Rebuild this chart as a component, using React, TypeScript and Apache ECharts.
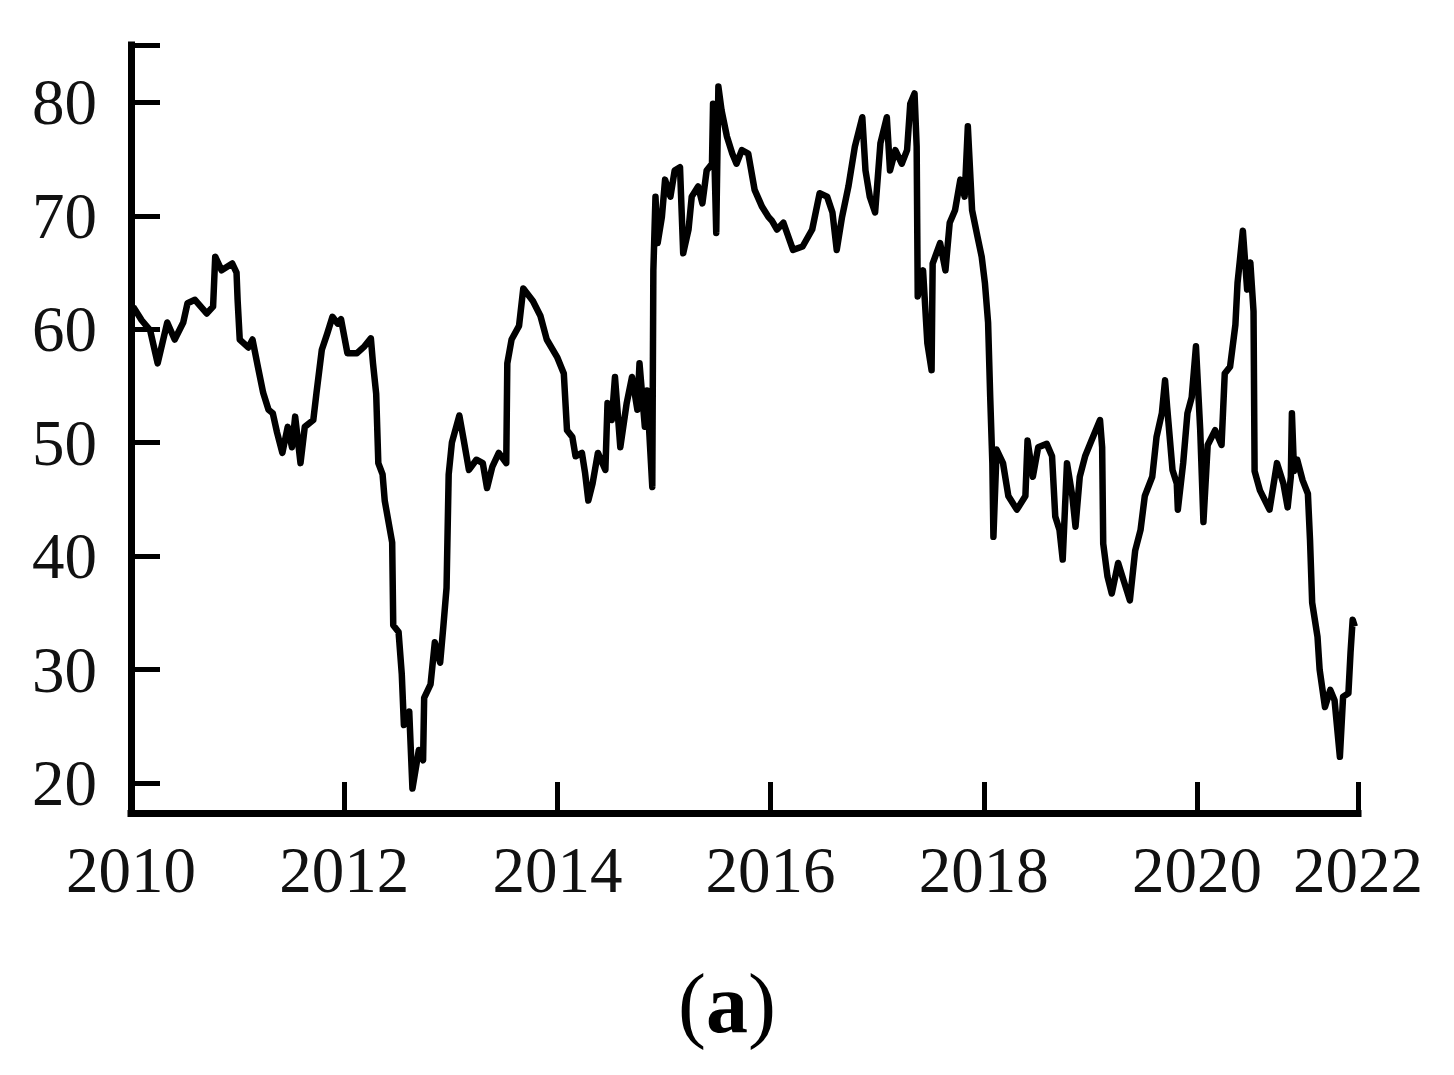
import React, { useEffect, useRef } from "react";
import * as echarts from "echarts";

// Decimal years (x) and index values (y)
const dates: number[] = [
  2010.02, 2010.10, 2010.18, 2010.25, 2010.34, 2010.41, 2010.49, 2010.53, 2010.60, 2010.71,
  2010.77, 2010.79, 2010.85, 2010.95, 2010.99, 2011.00, 2011.02, 2011.10, 2011.14, 2011.19,
  2011.24, 2011.29, 2011.33, 2011.37, 2011.42, 2011.47, 2011.51, 2011.54, 2011.59, 2011.63,
  2011.71, 2011.74, 2011.79, 2011.84, 2011.89, 2011.94, 2011.97, 2012.03, 2012.12, 2012.19,
  2012.25, 2012.27, 2012.30, 2012.32, 2012.36, 2012.38, 2012.45, 2012.46, 2012.51, 2012.54,
  2012.56, 2012.61, 2012.64, 2012.70, 2012.74, 2012.75, 2012.81, 2012.85, 2012.90, 2012.93,
  2012.96, 2012.98, 2013.01, 2013.08, 2013.12, 2013.17, 2013.24, 2013.30, 2013.34, 2013.39,
  2013.45, 2013.52, 2013.53, 2013.57, 2013.64, 2013.68, 2013.77, 2013.84, 2013.90, 2014.00,
  2014.06, 2014.09, 2014.14, 2014.17, 2014.23, 2014.26, 2014.29, 2014.33, 2014.38, 2014.45,
  2014.47, 2014.51, 2014.54, 2014.59, 2014.65, 2014.70, 2014.75, 2014.77, 2014.82, 2014.84,
  2014.89, 2014.90, 2014.92, 2014.94, 2014.98, 2015.01, 2015.06, 2015.10, 2015.15, 2015.18,
  2015.23, 2015.26, 2015.32, 2015.36, 2015.40, 2015.45, 2015.46, 2015.49, 2015.51, 2015.54,
  2015.59, 2015.64, 2015.68, 2015.73, 2015.79, 2015.85, 2015.92, 2015.98, 2016.01, 2016.06,
  2016.12, 2016.21, 2016.30, 2016.39, 2016.46, 2016.53, 2016.58, 2016.62, 2016.67, 2016.73,
  2016.79, 2016.86, 2016.89, 2016.93, 2016.98, 2017.03, 2017.09, 2017.12, 2017.17, 2017.23,
  2017.28, 2017.31, 2017.35, 2017.37, 2017.38, 2017.43, 2017.47, 2017.51, 2017.52, 2017.59,
  2017.64, 2017.68, 2017.73, 2017.78, 2017.82, 2017.85, 2017.89, 2017.94, 2017.98, 2018.01,
  2018.04, 2018.06, 2018.08, 2018.09, 2018.12, 2018.18, 2018.23, 2018.31, 2018.39, 2018.41,
  2018.46, 2018.51, 2018.59, 2018.64, 2018.67, 2018.71, 2018.74, 2018.78, 2018.83, 2018.86,
  2018.90, 2018.95, 2019.01, 2019.09, 2019.11, 2019.12, 2019.16, 2019.20, 2019.26, 2019.32,
  2019.37, 2019.42, 2019.47, 2019.51, 2019.58, 2019.62, 2019.67, 2019.70, 2019.72, 2019.77,
  2019.81, 2019.82, 2019.87, 2019.91, 2019.95, 2019.99, 2020.03, 2020.06, 2020.10, 2020.17,
  2020.23, 2020.26, 2020.31, 2020.36, 2020.38, 2020.40, 2020.43, 2020.47, 2020.50, 2020.53,
  2020.54, 2020.59, 2020.68, 2020.75, 2020.81, 2020.85, 2020.88, 2020.89, 2020.91, 2020.94,
  2020.99, 2021.04, 2021.06, 2021.08, 2021.13, 2021.15, 2021.20, 2021.25, 2021.29, 2021.34,
  2021.37, 2021.42, 2021.44, 2021.46, 2021.48,
];

const values: number[] = [
  62.0, 60.8, 59.9, 57.0, 60.6, 59.1, 60.6, 62.3, 62.6, 61.4,
  62.0, 66.4, 65.2, 65.8, 65.0, 62.6, 59.1, 58.4, 59.1, 56.7,
  54.4, 52.9, 52.6, 50.9, 49.1, 51.4, 49.6, 52.3, 48.2, 51.4,
  52.0, 54.4, 58.2, 59.6, 61.1, 60.5, 60.9, 57.9, 57.9, 58.5,
  59.2, 57.0, 54.3, 48.2, 47.2, 44.9, 41.2, 33.9, 33.3, 29.6,
  25.1, 26.3, 19.5, 22.9, 22.0, 27.5, 28.7, 32.4, 30.6, 33.8,
  37.2, 47.2, 50.0, 52.4, 50.3, 47.6, 48.5, 48.2, 46.0, 47.9,
  49.1, 48.2, 57.0, 59.1, 60.3, 63.6, 62.5, 61.2, 59.1, 57.5,
  56.1, 51.1, 50.5, 48.8, 49.1, 47.3, 44.9, 46.4, 49.1, 47.6,
  53.5, 52.0, 55.8, 49.6, 53.5, 55.8, 52.9, 57.0, 51.4, 54.6,
  46.1, 65.2, 71.7, 67.6, 69.9, 73.2, 71.7, 74.0, 74.3, 66.7,
  68.8, 71.7, 72.6, 71.1, 74.0, 74.6, 79.9, 68.5, 81.4, 79.3,
  77.0, 75.5, 74.6, 75.8, 75.5, 72.3, 70.8, 69.9, 69.6, 68.8,
  69.4, 67.0, 67.3, 68.8, 72.0, 71.7, 70.3, 67.0, 69.9, 72.6,
  76.1, 78.7, 74.0, 71.7, 70.3, 76.4, 78.7, 74.0, 75.8, 74.6,
  75.8, 79.9, 80.8, 76.1, 62.9, 65.2, 58.8, 56.4, 65.8, 67.6,
  65.2, 69.4, 70.5, 73.2, 71.7, 77.9, 70.5, 68.2, 66.4, 64.1,
  60.6, 54.0, 48.2, 41.7, 49.4, 48.2, 45.3, 44.1, 45.3, 50.2,
  47.0, 49.6, 49.9, 48.8, 43.5, 42.3, 39.7, 48.2, 45.3, 42.6,
  47.0, 48.8, 50.2, 52.0, 49.6, 41.1, 38.2, 36.7, 39.4, 37.6,
  36.1, 40.5, 42.3, 45.3, 47.0, 50.5, 52.6, 55.5, 53.1, 47.6,
  46.4, 44.1, 48.2, 52.6, 54.0, 58.5, 51.1, 43.0, 49.8, 51.1,
  49.8, 56.1, 56.7, 60.4, 64.1, 65.9, 68.7, 63.5, 65.9, 61.6,
  47.5, 45.8, 44.1, 48.2, 46.4, 44.3, 47.0, 52.6, 47.5, 48.5,
  46.7, 45.5, 41.4, 35.9, 32.9, 30.0, 26.7, 28.2, 27.3, 22.3,
  27.6, 27.9, 31.5, 34.4, 33.8,
];

// Axis ranges and ticks
const xMin = 2010;
const xMax = 2021.51;
const xTickValues: number[] = [2010, 2012, 2014, 2016, 2018, 2020, 2021.51];
const xTickLabels: string[] = ["2010", "2012", "2014", "2016", "2018", "2020", "2022"];

const yMin = 17.35;
const yMax = 85.07;
const yLabelValues: number[] = [20, 30, 40, 50, 60, 70, 80];
const yTickValues: number[] = [20, 30, 40, 50, 60, 70, 80, 85.07];

const panelLabel = "a";

const FONT = "'Liberation Serif', 'Times New Roman', serif";

export default function App() {
  const ref = useRef<HTMLDivElement>(null);

  useEffect(() => {
    if (!ref.current) return;
    const chart = echarts.init(ref.current, undefined, { renderer: "svg" });
    const seriesData = dates.map((d, i) => [d, values[i]]);

    chart.setOption({
      animation: false,
      backgroundColor: "#ffffff",
      grid: { left: 131, top: 45, width: 1227, height: 768, containLabel: false },
      xAxis: {
        type: "value",
        min: xMin,
        max: xMax,
        splitLine: { show: false },
        axisLine: { show: true, onZero: false, lineStyle: { color: "#000", width: 7, cap: "square" } },
        axisTick: {
          show: true,
          inside: true,
          length: 31,
          customValues: xTickValues,
          lineStyle: { color: "#000", width: 5 },
        },
        axisLabel: {
          show: true,
          customValues: xTickValues,
          margin: 24,
          fontSize: 65,
          fontFamily: FONT,
          color: "#111",
          formatter: (v: number) => {
            const i = xTickValues.findIndex((t) => Math.abs(t - v) < 0.005);
            return i >= 0 ? xTickLabels[i] : "";
          },
        },
      },
      yAxis: {
        type: "value",
        min: yMin,
        max: yMax,
        splitLine: { show: false },
        axisLine: { show: true, onZero: false, lineStyle: { color: "#000", width: 7, cap: "square" } },
        axisTick: {
          show: true,
          inside: true,
          length: 29,
          customValues: yTickValues,
          lineStyle: { color: "#000", width: 5 },
        },
        axisLabel: {
          show: true,
          customValues: yLabelValues,
          margin: 34,
          fontSize: 65,
          fontFamily: FONT,
          color: "#111",
        },
      },
      series: [
        {
          type: "line",
          data: seriesData,
          showSymbol: false,
          symbol: "none",
          lineStyle: { color: "#000", width: 6.5, join: "round" },
          clip: false,
        },
      ],
      graphic: [
        {
          type: "text",
          x: 727,
          y: 1003,
          style: {
            text: "{p|(}{b|" + panelLabel + "}{p|)}",
            align: "center",
            verticalAlign: "middle",
            fill: "#000",
            rich: {
              p: { fontSize: 84, fontFamily: FONT, fontWeight: "normal", fill: "#000" },
              b: { fontSize: 84, fontFamily: FONT, fontWeight: "bold", fill: "#000" },
            },
          },
        },
      ],
    });

    return () => chart.dispose();
  }, []);

  return (
    <div
      ref={ref}
      style={{ position: "fixed", left: 0, top: 0, width: 1454, height: 1075, background: "#fff" }}
    />
  );
}
